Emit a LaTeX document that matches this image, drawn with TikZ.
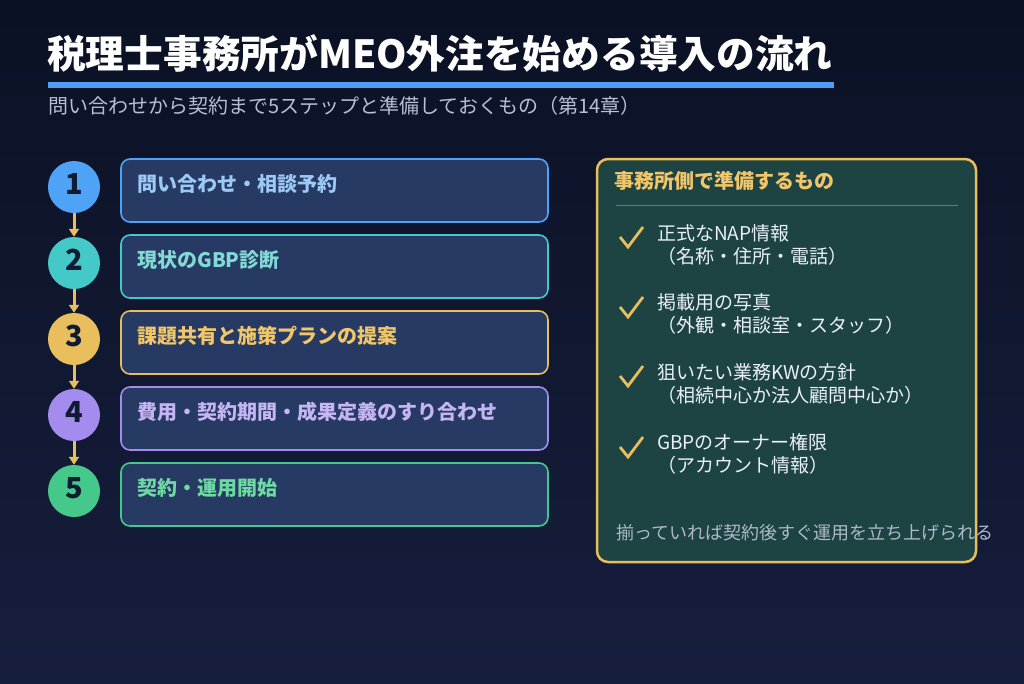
\documentclass[tikz,border=0pt]{standalone}
\usepackage{fontspec}
\setmainfont{Noto Sans CJK JP}
\usetikzlibrary{arrows.meta,positioning}

\definecolor{bgtop}{HTML}{0B1124}
\definecolor{bgbot}{HTML}{161E3D}
\definecolor{boxfill}{HTML}{273A63}
\definecolor{cblue}{HTML}{4FA3F7}
\definecolor{cteal}{HTML}{45C8C8}
\definecolor{cgold}{HTML}{E9BE5C}
\definecolor{cpurple}{HTML}{A48BEE}
\definecolor{cgreen}{HTML}{45C98B}
\definecolor{tblue}{HTML}{9CC9F5}
\definecolor{tteal}{HTML}{82D9D6}
\definecolor{tgold}{HTML}{F1C66A}
\definecolor{tpurple}{HTML}{C6B5F4}
\definecolor{tgreen}{HTML}{6FD9A4}
\definecolor{numink}{HTML}{0F1A33}
\definecolor{panelfill}{HTML}{1D4343}
\definecolor{rulecol}{HTML}{5677B8}
\definecolor{subgrey}{HTML}{B5C0D4}
\definecolor{itemwhite}{HTML}{EAF0F8}
\definecolor{footgrey}{HTML}{AEBACB}
\definecolor{titleblue}{HTML}{4F9DF5}

\begin{document}
\begin{tikzpicture}[x=1pt, y=-1pt,
    num/.style = {circle, minimum size=52pt, inner sep=0pt, text=numink, text depth=7pt,
                  font=\bfseries\fontsize{29}{30}\selectfont},
    stepbox/.style = {draw, fill=boxfill, line width=1.6pt, rounded corners=9pt,
                      minimum width=427pt, minimum height=63pt},
    steptext/.style = {anchor=west, inner sep=0pt, font=\bfseries\fontsize{20}{24}\selectfont},
    flow/.style = {cgold, line width=3pt, -{Triangle[length=8pt, width=10pt]}},
    item/.style = {anchor=west, align=left, inner sep=0pt, text=itemwhite,
                   font=\fontsize{19}{23}\selectfont},
    tick/.pic = {\draw[cgold, line width=2.8pt] (-11,0) -- (-3,10) -- (12,-10);}]
    \shade[top color=bgtop, bottom color=bgbot] (0,0) rectangle (1024,683);
    \useasboundingbox (0,0) rectangle (1024,683);

    % heading
    \node[anchor=west, inner sep=0pt, text=white, font=\bfseries\fontsize{38.7}{44}\selectfont]
        (title) at (47,53) {税理士事務所がMEO外注を始める導入の流れ};
    \draw[titleblue, line width=5.5pt] (48,85) -- (834,85);
    \node[anchor=west, inner sep=0pt, text=subgrey, font=\fontsize{20}{24}\selectfont]
        (sub) at (48,106) {問い合わせから契約まで5ステップと準備しておくもの（第14章）};

    % steps
    \node[num, fill=cblue] (n1) at (74,187) {1};
    \node[num, fill=cteal] (n2) at (74,263) {2};
    \node[num, fill=cgold] (n3) at (74,339) {3};
    \node[num, fill=cpurple] (n4) at (74,415) {4};
    \node[num, fill=cgreen] (n5) at (74,491) {5};
    \node[stepbox, draw=cblue] (b1) at (334.5,190.5) {};
    \node[stepbox, draw=cteal] (b2) at (334.5,266.5) {};
    \node[stepbox, draw=cgold] (b3) at (334.5,342.5) {};
    \node[stepbox, draw=cpurple] (b4) at (334.5,418.5) {};
    \node[stepbox, draw=cgreen] (b5) at (334.5,494.5) {};
    \node[steptext, text=tblue] (t1) at ([xshift=17pt, yshift=-26pt]b1.north west) {問い合わせ・相談予約};
    \node[steptext, text=tteal] (t2) at ([xshift=17pt, yshift=-26pt]b2.north west) {現状のGBP診断};
    \node[steptext, text=tgold] (t3) at ([xshift=17pt, yshift=-26pt]b3.north west) {課題共有と施策プランの提案};
    \node[steptext, text=tpurple] (t4) at ([xshift=17pt, yshift=-26pt]b4.north west) {費用・契約期間・成果定義のすり合わせ};
    \node[steptext, text=tgreen] (t5) at ([xshift=17pt, yshift=-26pt]b5.north west) {契約・運用開始};
    \draw[flow] (n1) -- (n2);
    \draw[flow] (n2) -- (n3);
    \draw[flow] (n3) -- (n4);
    \draw[flow] (n4) -- (n5);

    % preparation panel
    \node[draw=cgold, fill=panelfill, line width=2.5pt, rounded corners=11pt,
          minimum width=379pt, minimum height=403pt] (panel) at (786.5,360.5) {};
    \node[anchor=west, inner sep=0pt, text=tgold, font=\bfseries\fontsize{20}{24}\selectfont]
        (head) at ([xshift=19pt, yshift=-23pt]panel.north west) {事務所側で準備するもの};
    \draw[rulecol, line width=1pt] ([xshift=20pt, yshift=-48pt]panel.north west)
        -- ([xshift=-19pt, yshift=-48pt]panel.north east);
    \node[item] (i1) at (657,245) {正式なNAP情報\\（名称・住所・電話）};
    \node[item] (i2) at (657,314) {掲載用の写真\\（外観・相談室・スタッフ）};
    \node[item] (i3) at (657,384) {狙いたい業務KWの方針\\（相続中心か法人顧問中心か）};
    \node[item] (i4) at (657,454) {GBPのオーナー権限\\（アカウント情報）};
    \pic at (631,237) {tick};
    \pic at (631,307) {tick};
    \pic at (631,376) {tick};
    \pic at (631,447) {tick};
    \node[anchor=west, inner sep=0pt, text=footgrey, font=\fontsize{18}{22}\selectfont]
        (foot) at (616,533) {揃っていれば契約後すぐ運用を立ち上げられる};
\end{tikzpicture}
\end{document}
